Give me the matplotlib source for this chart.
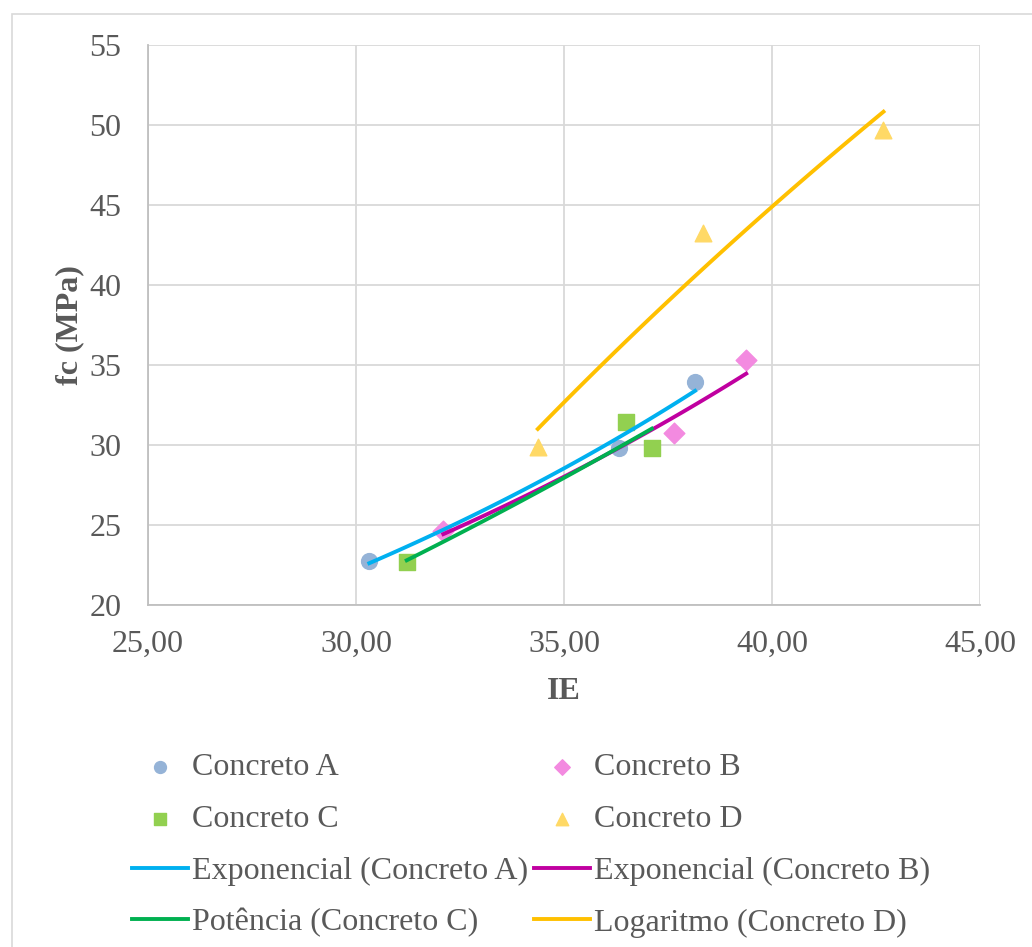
import numpy as np
import matplotlib
matplotlib.use("Agg")
import matplotlib.pyplot as plt
from matplotlib.patches import Rectangle
from matplotlib.ticker import FuncFormatter

plt.rcParams['font.family'] = ['Liberation Serif', 'DejaVu Serif']

# dados (IE, fc em MPa)
ie_a = [30.32, 36.33, 38.15]
fc_a = [22.73, 29.82, 33.96]
ie_b = [32.10, 37.64, 39.38]
fc_b = [24.62, 30.73, 35.32]
ie_c = [31.22, 36.50, 37.11]
fc_c = [22.70, 31.45, 29.83]
ie_d = [34.37, 38.33, 42.68]
fc_d = [29.88, 43.25, 49.69]

txt = '#595959'
grid_col = '#D9D9D9'
fs = 23
lw = 2.8

fig = plt.figure(figsize=(10.32, 9.47), dpi=100)
ax = fig.add_axes([148/1032, 1-605/947, (980-148)/1032, (605-45)/947])

# borda do grafico (estilo excel), cortada a direita e embaixo
fig.patches.append(Rectangle((12/1032, -0.1), 1.1, 1.1-14/947, transform=fig.transFigure,
                             fill=False, edgecolor='#D9D9D9', lw=1.2))

ms = 130
ax.scatter(ie_a, fc_a, s=ms, marker='o', color='#95B3D7', zorder=3, label='Concreto A')
ax.scatter(ie_b, fc_b, s=ms*0.85, marker='D', color='#F38AE0', zorder=3, label='Concreto B')
ax.scatter(ie_c, fc_c, s=ms*1.05, marker='s', color='#92D050', zorder=3, label='Concreto C')
ax.scatter(ie_d, fc_d, s=ms*1.1, marker='^', color='#FFD966', zorder=3, label='Concreto D')

# linhas de tendencia como no excel
def xs(x):
    return np.linspace(min(x), max(x), 100)

xa = xs(ie_a)
b, lna = np.polyfit(ie_a, np.log(fc_a), 1)
ax.plot(xa, np.exp(lna + b*xa), color='#00B0F0', lw=lw, zorder=4,
        label='Exponencial (Concreto A)')

xb = xs(ie_b)
b, lna = np.polyfit(ie_b, np.log(fc_b), 1)
ax.plot(xb, np.exp(lna + b*xb), color='#C000A0', lw=lw, zorder=4,
        label='Exponencial (Concreto B)')

xc = xs(ie_c)
b, lna = np.polyfit(np.log(ie_c), np.log(fc_c), 1)
ax.plot(xc, np.exp(lna) * xc**b, color='#00B050', lw=lw, zorder=4,
        label='Potência (Concreto C)')

xd = xs(ie_d)
a, c = np.polyfit(np.log(ie_d), fc_d, 1)
ax.plot(xd, a*np.log(xd) + c, color='#FFC000', lw=lw, zorder=4,
        label='Logaritmo (Concreto D)')

ax.set_xlim(25, 45)
ax.set_ylim(20, 55)
ax.set_xticks([25, 30, 35, 40, 45])
ax.set_yticks(range(20, 56, 5))
ax.xaxis.set_major_formatter(FuncFormatter(lambda v, p: f'{v:.2f}'.replace('.', ',')))
ax.grid(True, color=grid_col, lw=1.3)
ax.set_axisbelow(True)
for s in ['top', 'right']:
    ax.spines[s].set_visible(False)
for s in ['left', 'bottom']:
    ax.spines[s].set_color('#BFBFBF')
    ax.spines[s].set_linewidth(1.3)
ax.tick_params(length=0, labelsize=fs, colors=txt)
ax.tick_params(axis='y', pad=19)
ax.tick_params(axis='x', pad=18)
ax.set_xlabel('IE', fontsize=fs, fontweight='bold', color=txt, labelpad=13)
ax.set_ylabel('fc (MPa)', fontsize=fs, fontweight='bold', color=txt, labelpad=4)

# ordem da legenda igual ao excel (preenchida por coluna)
h, l = ax.get_legend_handles_labels()
by_label = dict(zip(l, h))
names = ['Concreto A', 'Concreto C', 'Exponencial (Concreto A)', 'Potência (Concreto C)',
         'Concreto B', 'Concreto D', 'Exponencial (Concreto B)', 'Logaritmo (Concreto D)']
leg = fig.legend([by_label[n] for n in names], names, loc='upper left',
                 bbox_to_anchor=(116/1032, 1-737/947), ncol=2, frameon=False,
                 fontsize=fs, handlelength=1.75, handletextpad=0.12,
                 columnspacing=0.2, labelspacing=0.7, markerscale=0.75, borderpad=0)
for t in leg.get_texts():
    t.set_color(txt)

fig.savefig('out.png', dpi=100)
